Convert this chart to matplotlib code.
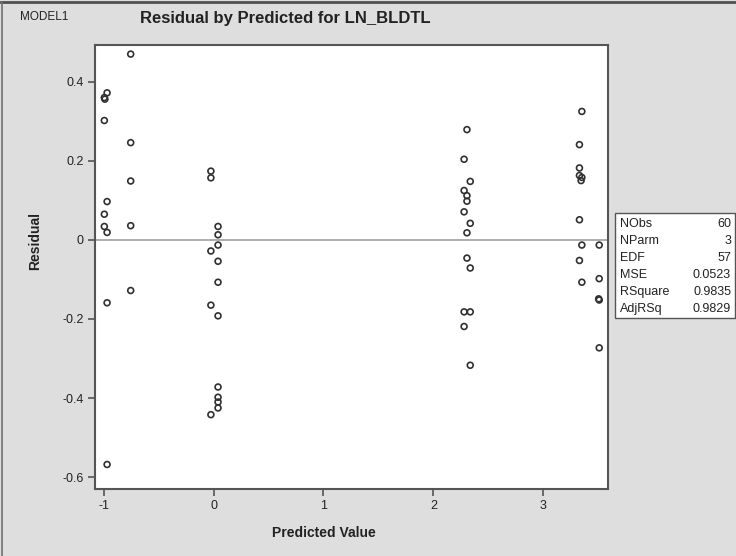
import matplotlib
matplotlib.use("Agg")
import matplotlib.pyplot as plt
from matplotlib.patches import Rectangle
from matplotlib.lines import Line2D

plt.rcParams['font.family'] = ['Liberation Sans', 'DejaVu Sans']

predicted = [-0.97, -0.995, -0.99, -0.995, -0.97, -0.995, -0.995, -0.97, -0.97, -0.97,
             -0.755, -0.755, -0.755, -0.755, -0.755,
             -0.025, -0.025, 0.04, 0.04, 0.04, -0.025, 0.04, 0.04, -0.025, 0.04,
             0.04, 0.04, 0.04, 0.04, -0.025,
             2.306, 2.28, 2.336, 2.28, 2.306, 2.306, 2.28, 2.336, 2.306, 2.306,
             2.336, 2.28, 2.336, 2.28, 2.336,
             3.352, 3.33, 3.33, 3.33, 3.352, 3.345, 3.33, 3.352, 3.33, 3.352,
             3.51, 3.51, 3.505, 3.51, 3.51]
residual = [0.372, 0.360, 0.356, 0.302, 0.097, 0.065, 0.034, 0.019, -0.159, -0.568,
            0.470, 0.246, 0.149, 0.036, -0.128,
            0.174, 0.157, 0.034, 0.013, -0.013, -0.028, -0.054, -0.107, -0.165, -0.192,
            -0.372, -0.398, -0.410, -0.425, -0.442,
            0.279, 0.204, 0.148, 0.125, 0.112, 0.098, 0.071, 0.042, 0.018, -0.046,
            -0.071, -0.182, -0.182, -0.219, -0.317,
            0.325, 0.241, 0.182, 0.163, 0.158, 0.150, 0.051, -0.013, -0.052, -0.107,
            -0.013, -0.098, -0.149, -0.152, -0.273]

x_ticks = [-1, 0, 1, 2, 3]
y_ticks = [-0.6, -0.4, -0.2, 0, 0.2, 0.4]
y_tick_labels = ['-0.6', '-0.4', '-0.2', '0', '0.2', '0.4']

stat_names = ['NObs', 'NParm', 'EDF', 'MSE', 'RSquare', 'AdjRSq']
stat_values = ['60', '3', '57', '0.0523', '0.9835', '0.9829']

W, H = 736, 556
bg = '#dedede'
fig = plt.figure(figsize=(W / 100, H / 100), dpi=100, facecolor=bg)

ax = fig.add_axes([95 / W, 1 - 489 / H, (608 - 95) / W, (489 - 45) / H])
ax.set_facecolor('white')
ax.scatter(predicted, residual, s=18, facecolors='none', edgecolors='#303030',
           linewidths=1.2, zorder=3)
ax.axhline(0, color='#a0a0a0', lw=1.2, zorder=1)
ax.set_xlim(-1.08, 3.59)
ax.set_ylim(-0.63, 0.493)
ax.set_xticks(x_ticks)
ax.set_xticklabels([str(t) for t in x_ticks])
ax.set_yticks(y_ticks)
ax.set_yticklabels(y_tick_labels)
for sp in ax.spines.values():
    sp.set_color('#555555')
    sp.set_linewidth(1.5)
ax.tick_params(direction='out', length=5, width=1.2, color='#555555',
               labelsize=9, labelcolor='#222222', pad=3)

fig.text(324 / W, 1 - 533 / H, 'Predicted Value', ha='center', va='center',
         fontsize=10, fontweight='bold', color='#222222')
fig.text(35 / W, 1 - 241 / H, 'Residual', ha='center', va='center', rotation=90,
         fontsize=10, fontweight='bold', color='#222222')
fig.text(285 / W, 1 - 18 / H, 'Residual by Predicted for LN_BLDTL', ha='center',
         va='center', fontsize=12, fontweight='bold', color='#222222')
fig.text(20 / W, 1 - 17 / H, 'MODEL1', ha='left', va='center', fontsize=8.5,
         color='#222222')

# stats box
fig.patches.append(Rectangle((615 / W, 1 - 318 / H), (735 - 615) / W, (318 - 213) / H,
                             transform=fig.transFigure, facecolor='white',
                             edgecolor='#555555', lw=1.0))
for i, (n, v) in enumerate(zip(stat_names, stat_values)):
    yy = 1 - (224 + i * 17) / H
    fig.text(620 / W, yy, n, ha='left', va='center', fontsize=9, color='#222222')
    fig.text(731 / W, yy, v, ha='right', va='center', fontsize=9, color='#222222')

# outer frame (top and left edges)
fig.lines.append(Line2D([0.5 / W, 1], [1 - 2 / H, 1 - 2 / H], transform=fig.transFigure,
                        color='#505050', lw=2))
fig.lines.append(Line2D([1.5 / W, 1.5 / W], [0, 1 - 2 / H], transform=fig.transFigure,
                        color='#707070', lw=1.2))

fig.savefig('out.png', dpi=100, facecolor=bg)
